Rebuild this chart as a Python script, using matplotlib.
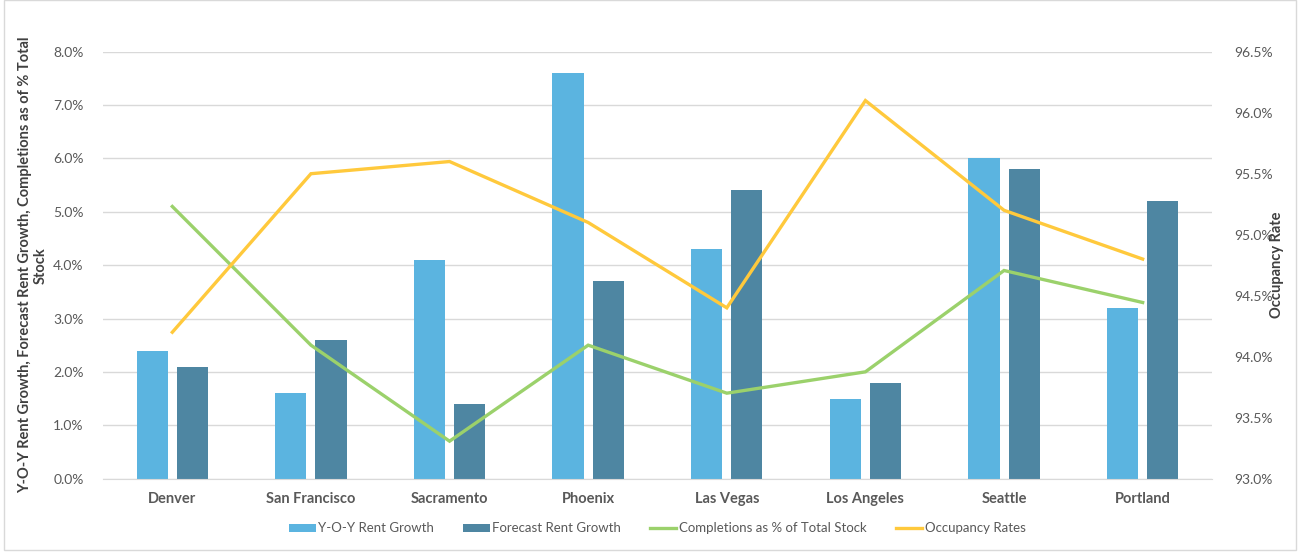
import matplotlib
matplotlib.use('Agg')
import matplotlib.pyplot as plt
import matplotlib.patches as patches
from matplotlib.ticker import FuncFormatter, MultipleLocator
import numpy as np

# data
cities = ['Denver', 'San Francisco', 'Sacramento', 'Phoenix',
          'Las Vegas', 'Los Angeles', 'Seattle', 'Portland']
yoy_growth = [2.4, 1.6, 4.1, 7.6, 4.3, 1.5, 6.0, 3.2]
forecast_growth = [2.1, 2.6, 1.4, 3.7, 5.4, 1.8, 5.8, 5.2]
completions = [5.1, 2.5, 0.7, 2.5, 1.6, 2.0, 3.9, 3.3]
occupancy = [94.2, 95.5, 95.6, 95.1, 94.4, 96.1, 95.2, 94.8]

LIGHT_BLUE = '#5BB4E0'
DARK_BLUE = '#4E86A2'
GREEN = '#9BD16B'
GOLD = '#FFC93C'
TEXT_GRAY = '#595959'

plt.rcParams['font.family'] = ['Lato', 'DejaVu Sans']

fig = plt.figure(figsize=(12.99, 5.6), dpi=100)
ax = fig.add_axes([0.0793, 0.1455, 0.8537, 0.762])
ax2 = ax.twinx()

x = np.arange(len(cities))
w = 0.225
b1 = ax.bar(x - 0.145, yoy_growth, w, color=LIGHT_BLUE, zorder=2,
            label='Y-O-Y Rent Growth')
b2 = ax.bar(x + 0.145, forecast_growth, w, color=DARK_BLUE, zorder=2,
            label='Forecast Rent Growth')
l1, = ax.plot(x, completions, color=GREEN, lw=2.4, zorder=3,
              solid_joinstyle='miter', label='Completions as % of Total Stock')
l2, = ax2.plot(x, occupancy, color=GOLD, lw=2.4, zorder=3,
               solid_joinstyle='miter', label='Occupancy Rates')

ax.set_xlim(-0.5, len(cities) - 0.5)
ax.set_ylim(0, 8)
ax.yaxis.set_major_locator(MultipleLocator(1))
ax.yaxis.set_major_formatter(FuncFormatter(lambda v, p: f'{v:.1f}%'))
ax2.set_ylim(93.0, 96.5)
ax2.yaxis.set_major_locator(MultipleLocator(0.5))
ax2.yaxis.set_major_formatter(FuncFormatter(lambda v, p: f'{v:.1f}%'))

ax.grid(axis='y', color='#D9D9D9', lw=1, zorder=0)
ax.set_axisbelow(True)
for a in (ax, ax2):
    for s in a.spines.values():
        s.set_visible(False)
    a.tick_params(length=0, labelsize=10, colors=TEXT_GRAY)
ax.spines['bottom'].set_visible(True)
ax.spines['bottom'].set_color('#D9D9D9')

ax.set_xticks(x)
ax.set_xticklabels(cities, fontweight='bold', fontsize=10.5)
ax.tick_params(axis='x', pad=10)
ax.tick_params(axis='y', pad=14)
ax2.tick_params(axis='y', pad=16)

ax.set_ylabel('Y-O-Y Rent Growth, Forecast Rent Growth, Completions as of % Total\nStock',
              fontsize=10.5, fontweight='bold', color='#404040', labelpad=4,
              linespacing=1.1)
ax2.set_ylabel('Occupancy Rate', fontsize=10.5, fontweight='bold',
               color='#404040', labelpad=-2)

ax.legend(handles=[b1, b2, l1, l2], loc='upper center',
          bbox_to_anchor=(0.5, -0.075), ncol=4, frameon=False,
          fontsize=9.5, labelcolor=TEXT_GRAY, handlelength=2.0,
          handleheight=0.6, handletextpad=0.2, columnspacing=2.2)

# thin border around the chart area
fig.add_artist(patches.Rectangle((0.003, 0.018), 0.995, 0.982,
                                 transform=fig.transFigure, fill=False,
                                 edgecolor='#D9D9D9', lw=1))

fig.savefig('out.png', dpi=100, facecolor='white')
plt.close()
